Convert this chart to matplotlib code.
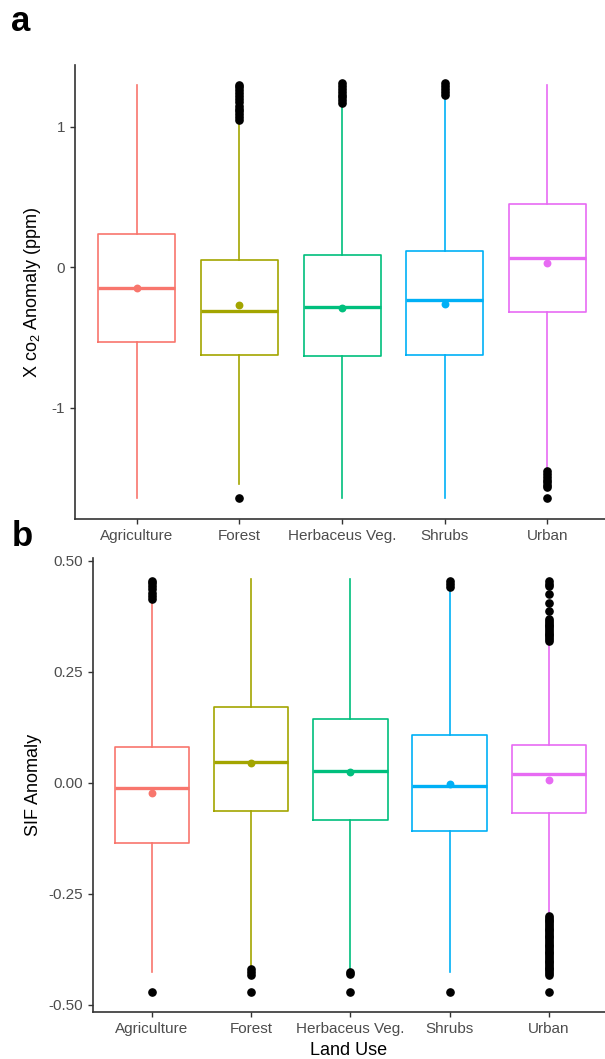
import matplotlib
matplotlib.use("Agg")
import matplotlib.pyplot as plt
from matplotlib.patches import Rectangle

plt.rcParams['font.family'] = ['Liberation Sans', 'DejaVu Sans']
plt.rcParams['axes.unicode_minus'] = False
plt.rcParams['mathtext.fontset'] = 'custom'
plt.rcParams['mathtext.rm'] = 'Liberation Sans'

# ---------------- data ----------------
categories = ["Agriculture", "Forest", "Herbaceus Veg.", "Shrubs", "Urban"]
colors = ["#F8766D", "#A3A500", "#00BF7D", "#00B0F6", "#E76BF3"]

# Panel a: XCO2 anomaly (ppm)
xco2_q1 = [-0.53, -0.62, -0.63, -0.62, -0.32]
xco2_med = [-0.15, -0.31, -0.28, -0.23, 0.07]
xco2_q3 = [0.24, 0.05, 0.09, 0.12, 0.45]
xco2_lo = [-1.64, -1.54, -1.64, -1.64, -1.44]
xco2_hi = [1.30, 1.04, 1.16, 1.23, 1.30]
xco2_mean = [-0.15, -0.27, -0.29, -0.26, 0.03]
xco2_out_agri = []
xco2_out_forest = [1.05, 1.07, 1.09, 1.11, 1.13, 1.15, 1.18, 1.20, 1.22, 1.24,
                   1.26, 1.28, 1.30, -1.64]
xco2_out_herb = [1.17, 1.19, 1.21, 1.23, 1.25, 1.27, 1.29, 1.31]
xco2_out_shrub = [1.23, 1.25, 1.27, 1.29, 1.31]
xco2_out_urban = [-1.45, -1.47, -1.49, -1.51, -1.53, -1.55, -1.56, -1.64]
xco2_ticks = [-1, 0, 1]
xco2_ticklabels = ["-1", "0", "1"]

# Panel b: SIF anomaly
sif_q1 = [-0.135, -0.064, -0.084, -0.109, -0.068]
sif_med = [-0.012, 0.046, 0.027, -0.008, 0.020]
sif_q3 = [0.080, 0.170, 0.144, 0.108, 0.086]
sif_lo = [-0.426, -0.417, -0.424, -0.426, -0.297]
sif_hi = [0.408, 0.459, 0.459, 0.439, 0.318]
sif_mean = [-0.023, 0.045, 0.025, -0.003, 0.006]
sif_out_agri = [0.413, 0.420, 0.428, 0.436, 0.443, 0.449, 0.454, -0.470]
sif_out_forest = [-0.420, -0.425, -0.432, -0.470]
sif_out_herb = [-0.425, -0.430, -0.470]
sif_out_shrub = [0.441, 0.447, 0.454, -0.470]
sif_out_urban = [0.454, 0.448, 0.443, 0.425, 0.406, 0.387, 0.368, 0.364, 0.360,
                 0.356, 0.352, 0.348, 0.344, 0.340, 0.336, 0.332, 0.328, 0.324,
                 0.320,
                 -0.300, -0.304, -0.308, -0.312, -0.316, -0.320, -0.324, -0.328,
                 -0.332, -0.336, -0.340, -0.344, -0.348, -0.352, -0.356, -0.360,
                 -0.364, -0.368, -0.372, -0.376, -0.380, -0.384, -0.388, -0.392,
                 -0.396, -0.400, -0.404, -0.408, -0.412, -0.416, -0.420, -0.424,
                 -0.428, -0.432, -0.470]
sif_ticks = [-0.50, -0.25, 0.00, 0.25, 0.50]
sif_ticklabels = ["-0.50", "-0.25", "0.00", "0.25", "0.50"]

# ---------------- figure ----------------
W, H = 605, 1059
fig = plt.figure(figsize=(W / 100, H / 100), dpi=100)

def px_axes(left, top, right, bottom):
    return [left / W, 1 - bottom / H, (right - left) / W, (bottom - top) / H]

ax_a = fig.add_axes(px_axes(75, 65, 605, 519))
ax_b = fig.add_axes(px_axes(92.5, 558.3, 605, 1012.3))
ax_b.set_zorder(2)

def draw_panel(ax, q1, med, q3, lo, hi, mean, outs, ylim, ticks, ticklabels):
    for i in range(len(categories)):
        st = dict(med=med[i], q1=q1[i], q3=q3[i], whislo=lo[i], whishi=hi[i],
                  fliers=outs[i], label=categories[i])
        c = colors[i]
        ax.bxp([st], positions=[i + 1], widths=0.75, showcaps=False,
               showfliers=True, patch_artist=False,
               boxprops=dict(color=c, linewidth=1.2),
               whiskerprops=dict(color=c, linewidth=1.2),
               medianprops=dict(color=c, linewidth=2.4, solid_capstyle='butt'),
               flierprops=dict(marker='o', markerfacecolor='black',
                               markeredgecolor='black', markersize=5.2,
                               linestyle='none'))
        ax.scatter([i + 1], [mean[i]], s=32, color=c, zorder=4, linewidths=0)
    ax.set_ylim(*ylim)
    ax.set_xticks(range(1, len(categories) + 1))
    ax.set_xticklabels(categories)
    ax.set_yticks(ticks)
    ax.set_yticklabels(ticklabels)
    for s in ['top', 'right']:
        ax.spines[s].set_visible(False)
    for s in ['left', 'bottom']:
        ax.spines[s].set_color('#333333')
        ax.spines[s].set_linewidth(1.2)
    ax.tick_params(axis='both', length=3.6, width=1.0, color='#333333',
                   labelcolor='#4D4D4D', labelsize=11, pad=3.5)

draw_panel(ax_a, xco2_q1, xco2_med, xco2_q3, xco2_lo, xco2_hi, xco2_mean,
           [xco2_out_agri, xco2_out_forest, xco2_out_herb, xco2_out_shrub, xco2_out_urban],
           (-1.79, 1.44), xco2_ticks, xco2_ticklabels)
ax_a.set_xlim(0.4, 0.4 + 530 / 102.7)

draw_panel(ax_b, sif_q1, sif_med, sif_q3, sif_lo, sif_hi, sif_mean,
           [sif_out_agri, sif_out_forest, sif_out_herb, sif_out_shrub, sif_out_urban],
           (-0.5165, 0.5055), sif_ticks, sif_ticklabels)
ax_b.set_xlim(0.4, 0.4 + 512.5 / 99.2)

# axis titles
ax_a.set_xlabel("Land Use", fontsize=13, color='black', labelpad=8.5)
ax_b.set_xlabel("Land Use", fontsize=13, color='black', labelpad=4)
fig.text(33 / W, 1 - 292 / H, r"X co$\mathregular{_2}$ Anomaly (ppm)", rotation=90,
         ha='center', va='center', fontsize=13, color='black')
fig.text(34 / W, 1 - 785 / H, "SIF Anomaly", rotation=90,
         ha='center', va='center', fontsize=13, color='black')

# panel b background covering the lower part of panel a's region
fig.add_artist(Rectangle((0, 0), 1, 1 - 551.5 / H, transform=fig.transFigure,
                         facecolor='white', edgecolor='none', zorder=1))

# panel letters
fig.text(11 / W, 1 - 31 / H, "a", fontsize=25, fontweight='bold',
         ha='left', va='baseline', zorder=5)
fig.text(12 / W, 1 - 546.5 / H, "b", fontsize=25, fontweight='bold',
         ha='left', va='baseline', zorder=5)

fig.savefig("out.png", dpi=100)
